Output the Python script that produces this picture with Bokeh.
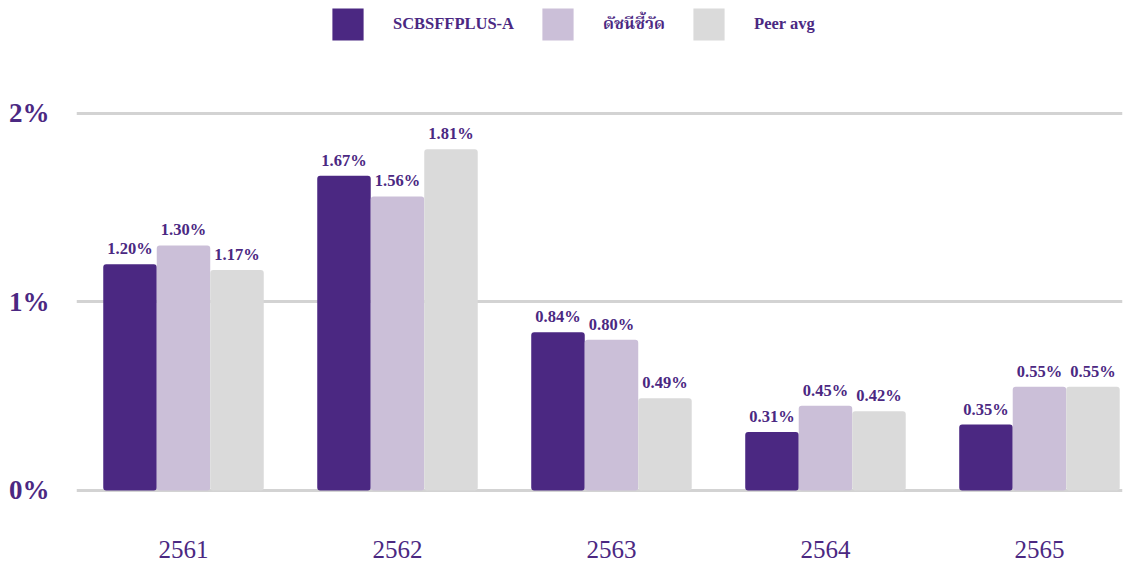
from bokeh.plotting import figure
from bokeh.models import ColumnDataSource, Range1d, FixedTicker, Legend, LegendItem, LabelSet
from bokeh.embed import file_html
from bokeh.resources import INLINE

years = ["2561", "2562", "2563", "2564", "2565"]
series_names = ["SCBSFFPLUS-A", "ดัชนีชี้วัด", "Peer avg"]
fund = [1.20, 1.67, 0.84, 0.31, 0.35]
bench = [1.30, 1.56, 0.80, 0.45, 0.55]
peer = [1.17, 1.81, 0.49, 0.42, 0.55]
y_ticks = [0, 1, 2]

colors = ["#4b2882", "#cbbfd8", "#dadada"]
TXT = "#4b2882"
FONT = "'Liberation Serif', 'Times New Roman', 'Noto Serif Thai', 'Noto Sans Thai', serif"

p = figure(width=1128, height=564, output_backend="svg", toolbar_location=None,
           x_range=Range1d(-0.5, 4.388), y_range=Range1d(-0.3926, 2.557),
           min_border_left=76, min_border_right=6, min_border_top=8, min_border_bottom=0)
p.outline_line_color = None
p.background_fill_color = "white"
p.border_fill_color = "white"

xs = list(range(len(years)))
offsets = [-0.25, 0.0, 0.25]
renderers = []
for vals, off, col, name in zip([fund, bench, peer], offsets, colors, series_names):
    src = ColumnDataSource(dict(x=[x + off for x in xs], top=vals,
                                lab=["%.2f%%" % v for v in vals]))
    r = p.vbar(x="x", top="top", bottom=0, width=0.25, source=src,
               fill_color=col, line_color=None, border_radius=3)
    renderers.append((name, r))
    ls = LabelSet(x="x", y="top", text="lab", source=src, text_align="center",
                  text_baseline="bottom", y_offset=6, text_font=FONT,
                  text_font_size="16.5px", text_font_style="bold", text_color=TXT)
    p.add_layout(ls)

# category labels under the groups
ysrc = ColumnDataSource(dict(x=xs, y=[0] * len(xs), lab=years))
p.add_layout(LabelSet(x="x", y="y", text="lab", source=ysrc, text_align="center",
                      text_baseline="middle", y_offset=-59, text_font=FONT,
                      text_font_size="25px", text_color=TXT))

# grid
p.xgrid.visible = False
p.ygrid.ticker = FixedTicker(ticks=y_ticks)
p.ygrid.grid_line_color = "#d3d3d3"
p.ygrid.grid_line_width = 3

# axes
p.xaxis.visible = False
p.yaxis.ticker = FixedTicker(ticks=y_ticks)
p.yaxis.major_label_overrides = {t: "%d%%" % t for t in y_ticks}
p.yaxis.axis_line_color = None
p.yaxis.major_tick_line_color = None
p.yaxis.minor_tick_line_color = None
p.yaxis.major_label_text_font = FONT
p.yaxis.major_label_text_font_size = "27px"
p.yaxis.major_label_text_font_style = "bold"
p.yaxis.major_label_text_color = TXT
p.yaxis.major_label_standoff = 21

legend = Legend(items=[LegendItem(label=n, renderers=[r]) for n, r in renderers],
                orientation="horizontal", location=(252, 520),
                glyph_width=39, glyph_height=40, label_standoff=26, spacing=24,
                padding=0, margin=0, border_line_color=None,
                background_fill_alpha=0,
                label_text_font=FONT, label_text_font_size="16.5px",
                label_text_font_style="bold", label_text_color=TXT,
                label_height=40)
p.add_layout(legend)

open("out.html", "w").write(file_html(p, INLINE))
